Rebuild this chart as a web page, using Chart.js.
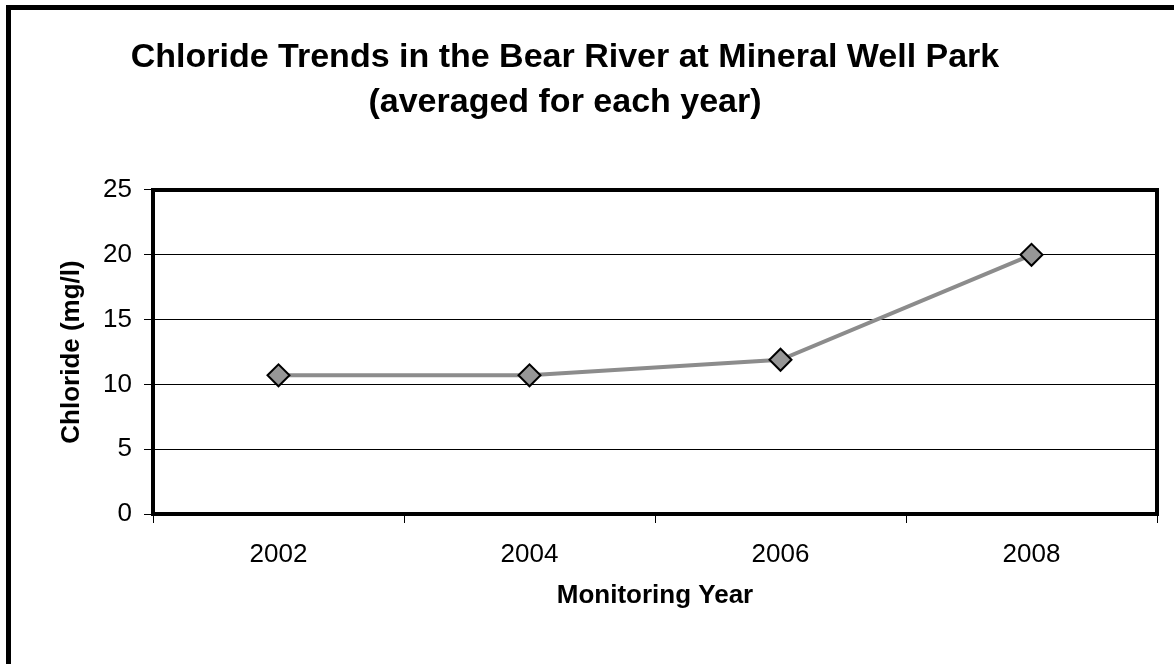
<!DOCTYPE html>
<html>
<head>
<meta charset="utf-8">
<script src="https://cdn.jsdelivr.net/npm/chart.js@4"></script>
<style>
    html, body { margin: 0; padding: 0; background: #fff; overflow: hidden; }
    #frame {
        position: absolute; left: 6px; top: 5px; width: 1300px; height: 800px;
        border-top: 5px solid #000; border-left: 5px solid #000;
        pointer-events: none;
    }
    #chloride-chart { position: absolute; left: 0; top: 0; }
</style>
</head>
<body>
<div id="frame"></div>
<canvas id="chloride-chart" width="1174" height="664"></canvas>
<script>
const years = ["2002", "2004", "2006", "2008"];
const chlorideMgL = [10.7, 10.7, 11.9, 20.0];
const yTickMin = 0;
const yTickMax = 25;
const yTickStep = 5;

const FONT = "'Liberation Sans', Arial, Helvetica, sans-serif";

// box around the plot area (Excel style)
const plotFrame = {
    id: "plotFrame",
    afterDraw(chart) {
        const { ctx, chartArea: a } = chart;
        ctx.save();
        ctx.strokeStyle = "#000";
        ctx.lineWidth = 4;
        ctx.strokeRect(a.left, a.top, a.right - a.left, a.bottom - a.top);
        ctx.restore();
    }
};

new Chart(document.getElementById("chloride-chart"), {
    type: "line",
    data: {
        labels: years,
        datasets: [{
            data: chlorideMgL,
            borderColor: "#8c8c8c",
            borderWidth: 4,
            tension: 0,
            pointStyle: "rectRot",
            pointRadius: 11,
            pointHoverRadius: 11,
            pointBackgroundColor: "#969696",
            pointBorderColor: "#000",
            pointBorderWidth: 2
        }]
    },
    options: {
        responsive: false,
        animation: false,
        layout: { padding: { left: -27, right: 17, top: 0, bottom: 0 } },
        plugins: {
            legend: { display: false },
            tooltip: { enabled: false },
            title: {
                display: true,
                text: ["Chloride Trends in the Bear River at Mineral Well Park", "(averaged for each year)"],
                color: "#000",
                font: { family: FONT, size: 34, weight: "bold", lineHeight: 1.3235 },
                padding: { top: 35, bottom: 65 }
            }
        },
        scales: {
            x: {
                offset: true,
                grid: { offset: true, drawOnChartArea: false, color: "#000", tickLength: 9 },
                border: { display: false },
                ticks: { color: "#000", font: { family: FONT, size: 26 }, padding: 16 },
                title: {
                    display: true,
                    text: "Monitoring Year",
                    color: "#000",
                    font: { family: FONT, size: 26, weight: "bold" },
                    padding: { top: 0, bottom: 53 }
                },
                afterFit(scale) { scale.height = 150; }
            },
            y: {
                min: yTickMin,
                max: yTickMax,
                grid: { color: "#000", lineWidth: 1, tickLength: 9 },
                border: { display: false },
                ticks: { stepSize: yTickStep, color: "#000", font: { family: FONT, size: 26 }, padding: 12 },
                title: {
                    display: true,
                    text: "Chloride (mg/l)",
                    color: "#000",
                    font: { family: FONT, size: 26, weight: "bold" },
                    padding: { top: 83, bottom: 0 }
                },
                afterFit(scale) { scale.width = 180; }
            }
        }
    },
    plugins: [plotFrame]
});
</script>
</body>
</html>
